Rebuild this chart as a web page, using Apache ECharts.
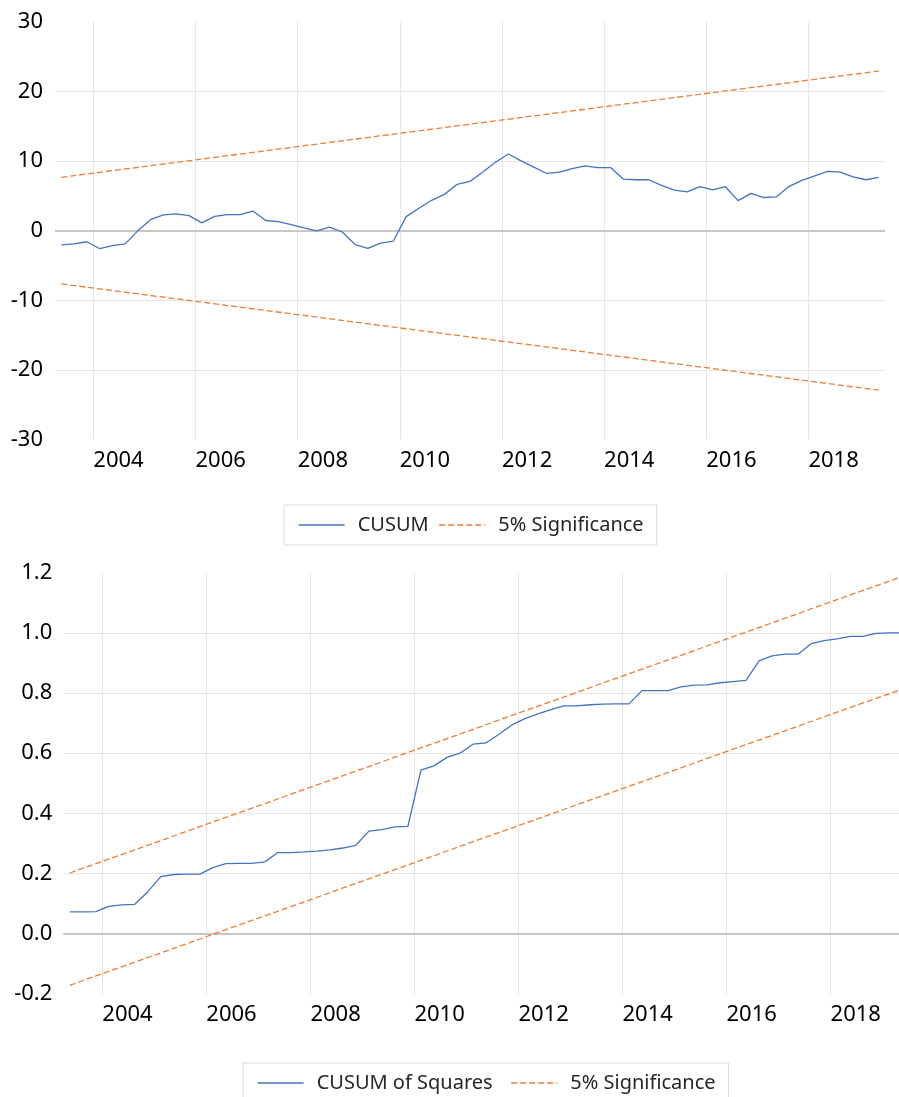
<!DOCTYPE html>
<html>
<head>
<meta charset="utf-8">
<title>CUSUM tests</title>
<script src="https://cdn.jsdelivr.net/npm/echarts@6/dist/echarts.min.js"></script>
<style>
  html, body { margin: 0; padding: 0; background: #fff; }
  #chart { width: 899px; height: 1097px; }
</style>
</head>
<body>
<div id="chart"></div>
<script>
// quarterly sample used by both tests
const quarters = [
  '2003Q2', '2003Q3', '2003Q4',
  '2004Q1', '2004Q2', '2004Q3', '2004Q4',
  '2005Q1', '2005Q2', '2005Q3', '2005Q4',
  '2006Q1', '2006Q2', '2006Q3', '2006Q4',
  '2007Q1', '2007Q2', '2007Q3', '2007Q4',
  '2008Q1', '2008Q2', '2008Q3', '2008Q4',
  '2009Q1', '2009Q2', '2009Q3', '2009Q4',
  '2010Q1', '2010Q2', '2010Q3', '2010Q4',
  '2011Q1', '2011Q2', '2011Q3', '2011Q4',
  '2012Q1', '2012Q2', '2012Q3', '2012Q4',
  '2013Q1', '2013Q2', '2013Q3', '2013Q4',
  '2014Q1', '2014Q2', '2014Q3', '2014Q4',
  '2015Q1', '2015Q2', '2015Q3', '2015Q4',
  '2016Q1', '2016Q2', '2016Q3', '2016Q4',
  '2017Q1', '2017Q2', '2017Q3', '2017Q4',
  '2018Q1', '2018Q2', '2018Q3', '2018Q4',
  '2019Q1', '2019Q2'
]
const yearLabels = ['2004', '2006', '2008', '2010', '2012', '2014', '2016', '2018']

const cusum = [
  -2.05, -1.9, -1.6, -2.6, -2.15, -1.9, 0.0, 1.6, 2.25, 2.4,
  2.15, 1.1, 2.05, 2.3, 2.3, 2.8, 1.45, 1.3, 0.85, 0.4,
  -0.05, 0.5, -0.2, -2.0, -2.55, -1.8, -1.5, 2.0, 3.2, 4.35,
  5.2, 6.65, 7.05, 8.4, 9.8, 11.0, 10.0, 9.1, 8.2, 8.4,
  8.9, 9.3, 9.05, 9.05, 7.4, 7.3, 7.3, 6.5, 5.8, 5.55,
  6.3, 5.85, 6.3, 4.3, 5.35, 4.75, 4.85, 6.35, 7.2, 7.85,
  8.5, 8.4, 7.7, 7.3, 7.65
]
// significance bands: values at first and last quarter
const cusumUpper = [7.65, 22.9]
const cusumLower = [-7.65, -22.9]

const cusumSq = [
  0.073, 0.073, 0.074, 0.091, 0.096, 0.098, 0.140, 0.190, 0.197, 0.198,
  0.198, 0.220, 0.233, 0.234, 0.234, 0.239, 0.270, 0.270, 0.272, 0.275,
  0.279, 0.285, 0.294, 0.341, 0.346, 0.355, 0.357, 0.544, 0.558, 0.586,
  0.600, 0.630, 0.634, 0.663, 0.694, 0.715, 0.731, 0.745, 0.757, 0.757,
  0.761, 0.763, 0.764, 0.764, 0.808, 0.808, 0.808, 0.820, 0.826, 0.827,
  0.834, 0.838, 0.842, 0.907, 0.923, 0.929, 0.929, 0.964, 0.974, 0.980,
  0.988, 0.988, 0.998, 1.000, 1.000
]
const sqUpper = [0.202, 1.187]
const sqLower = [-0.171, 0.813]

const blue = '#4472C4'
const orange = '#ED7D31'
const gridColor = '#e6e6e6'
const zeroColor = '#c6c6c6'

const ends = (vals) => [[quarters[0], vals[0]], [quarters[quarters.length - 1], vals[1]]]

function xAxisFor(gridIndex, halfBand) {
  return {
    type: 'category',
    gridIndex: gridIndex,
    data: quarters,
    boundaryGap: true,
    axisLine: { show: false },
    axisTick: { show: false },
    axisLabel: {
      interval: (idx) => idx % 8 === 2 && idx <= 58,
      formatter: (val, idx) => yearLabels[(idx - 2) / 8],
      align: 'left',
      padding: [0, 0, 0, halfBand],
      margin: 10,
      fontSize: 22,
      color: '#000'
    },
    splitLine: {
      show: true,
      interval: (idx) => idx % 8 === 3,
      showMaxLine: false,
      lineStyle: { color: gridColor, width: 1 }
    }
  }
}

function yAxisFor(gridIndex, min, max, step, fmt, margin) {
  return {
    type: 'value',
    gridIndex: gridIndex,
    min: min,
    max: max,
    interval: step,
    axisLine: { show: false },
    axisTick: { show: false },
    axisLabel: { fontSize: 22, color: '#000', margin: margin, formatter: fmt },
    splitLine: {
      show: true,
      showMinLine: false,
      showMaxLine: false,
      lineStyle: { color: gridColor, width: 1 }
    }
  }
}

function legendFor(left, top, names, gap) {
  return {
    left: left,
    top: top,
    data: names,
    itemWidth: 46,
    itemHeight: 14,
    itemGap: gap,
    padding: [10, 13, 10, 14],
    borderColor: '#d9d9d9',
    borderWidth: 1,
    // hide the marker dot, keep only the line sample
    itemStyle: { color: 'transparent', opacity: 0, borderWidth: 0 },
    lineStyle: { width: 1.3 },
    textStyle: { fontSize: 20, color: '#262626', padding: [0, 0, 0, 8] }
  }
}

const zeroLine = {
  silent: true,
  symbol: 'none',
  z: 1,
  label: { show: false },
  lineStyle: { color: zeroColor, width: 2, type: 'solid' },
  data: [{ yAxis: 0 }]
}

const chart = echarts.init(document.getElementById('chart'))
chart.setOption({
  animation: false,
  backgroundColor: '#fff',
  textStyle: { fontFamily: 'Noto Sans' },
  grid: [
    { left: 55, right: 14, top: 21.6, height: 418, containLabel: false, outerBoundsMode: 'none' },
    { left: 63.3, right: -9.6, top: 572.6, height: 421.4, containLabel: false, outerBoundsMode: 'none' }
  ],
  xAxis: [xAxisFor(0, 6.4), xAxisFor(1, 6.5)],
  yAxis: [
    yAxisFor(0, -30, 30, 10, (v) => String(Math.round(v)), 12),
    yAxisFor(1, -0.2, 1.2, 0.2, (v) => v.toFixed(1), 11)
  ],
  legend: [
    legendFor(284, 505, ['CUSUM', '5% Significance'], 10),
    legendFor(243, 1063, ['CUSUM of Squares', '5% Significance'], 18)
  ],
  series: [
    {
      name: '5% Significance',
      type: 'line',
      xAxisIndex: 0,
      yAxisIndex: 0,
      symbol: 'none',
      data: ends(cusumUpper),
      lineStyle: { color: orange, width: 1.3, type: [6, 3] },
      itemStyle: { color: orange },
      markLine: zeroLine
    },
    {
      name: '5% Significance',
      type: 'line',
      xAxisIndex: 0,
      yAxisIndex: 0,
      symbol: 'none',
      data: ends(cusumLower),
      lineStyle: { color: orange, width: 1.3, type: [6, 3] },
      itemStyle: { color: orange }
    },
    {
      name: 'CUSUM',
      type: 'line',
      xAxisIndex: 0,
      yAxisIndex: 0,
      symbol: 'none',
      data: cusum,
      lineStyle: { color: blue, width: 1.3 },
      itemStyle: { color: blue }
    },
    {
      name: '5% Significance',
      type: 'line',
      xAxisIndex: 1,
      yAxisIndex: 1,
      symbol: 'none',
      data: ends(sqUpper),
      lineStyle: { color: orange, width: 1.3, type: [6, 3] },
      itemStyle: { color: orange },
      markLine: zeroLine
    },
    {
      name: '5% Significance',
      type: 'line',
      xAxisIndex: 1,
      yAxisIndex: 1,
      symbol: 'none',
      data: ends(sqLower),
      lineStyle: { color: orange, width: 1.3, type: [6, 3] },
      itemStyle: { color: orange }
    },
    {
      name: 'CUSUM of Squares',
      type: 'line',
      xAxisIndex: 1,
      yAxisIndex: 1,
      symbol: 'none',
      data: cusumSq,
      lineStyle: { color: blue, width: 1.3 },
      itemStyle: { color: blue }
    }
  ]
})
</script>
</body>
</html>
